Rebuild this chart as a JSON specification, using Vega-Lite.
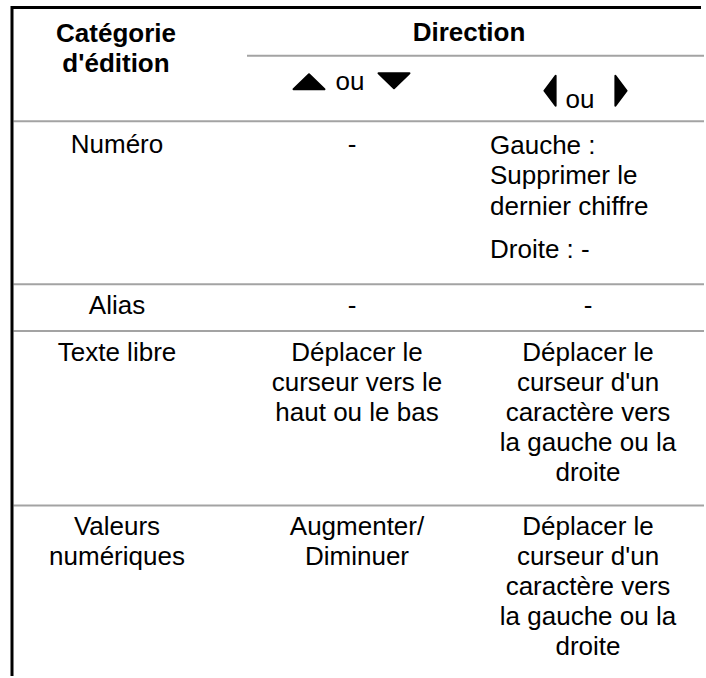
{
  "$schema": "https://vega.github.io/schema/vega-lite/v6.json",
  "width": 706,
  "height": 678,
  "padding": 0,
  "autosize": {"type": "fit", "contains": "padding"},
  "background": "white",
  "config": {"view": {"stroke": null}},
  "datasets": {
    "lines": [
      {"kind": "border", "x": 11, "x2": 701, "y": 7.5, "y2": 7.5},
      {"kind": "border", "x": 12, "x2": 12, "y": 6, "y2": 678},
      {"kind": "grid", "x": 247, "x2": 704, "y": 56, "y2": 56},
      {"kind": "grid", "x": 13.5, "x2": 704, "y": 121.5, "y2": 121.5},
      {"kind": "grid", "x": 13.5, "x2": 704, "y": 285, "y2": 285},
      {"kind": "grid", "x": 13.5, "x2": 704, "y": 332, "y2": 332},
      {"kind": "grid", "x": 13.5, "x2": 704, "y": 507, "y2": 507}
    ],
    "arrows": [
      {"dir": "up", "x": 309, "y": 82},
      {"dir": "down", "x": 394, "y": 81},
      {"dir": "left", "x": 550, "y": 91},
      {"dir": "right", "x": 621, "y": 91}
    ],
    "cells": [
      {"role": "head", "x": 116, "y": 42, "text": "Catégorie"},
      {"role": "head", "x": 116, "y": 72, "text": "d'édition"},
      {"role": "head", "x": 469, "y": 41, "text": "Direction"},
      {"role": "center", "x": 350, "y": 90, "text": "ou"},
      {"role": "center", "x": 580, "y": 108, "text": "ou"},
      {"role": "center", "x": 117, "y": 153, "text": "Numéro"},
      {"role": "center", "x": 352, "y": 153, "text": "-"},
      {"role": "left", "x": 490, "y": 154, "text": "Gauche :"},
      {"role": "left", "x": 490, "y": 185, "text": "Supprimer le"},
      {"role": "left", "x": 490, "y": 216, "text": "dernier chiffre"},
      {"role": "left", "x": 490, "y": 259, "text": "Droite : -"},
      {"role": "center", "x": 117, "y": 315, "text": "Alias"},
      {"role": "center", "x": 352, "y": 315, "text": "-"},
      {"role": "center", "x": 588, "y": 315, "text": "-"},
      {"role": "center", "x": 117, "y": 362, "text": "Texte libre"},
      {"role": "center", "x": 357, "y": 362, "text": "Déplacer le"},
      {"role": "center", "x": 357, "y": 392, "text": "curseur vers le"},
      {"role": "center", "x": 357, "y": 422, "text": "haut ou le bas"},
      {"role": "center", "x": 588, "y": 362, "text": "Déplacer le"},
      {"role": "center", "x": 588, "y": 392, "text": "curseur d'un"},
      {"role": "center", "x": 588, "y": 422, "text": "caractère vers"},
      {"role": "center", "x": 588, "y": 452, "text": "la gauche ou la"},
      {"role": "center", "x": 588, "y": 482, "text": "droite"},
      {"role": "center", "x": 117, "y": 537, "text": "Valeurs"},
      {"role": "center", "x": 117, "y": 567, "text": "numériques"},
      {"role": "center", "x": 357, "y": 537, "text": "Augmenter/"},
      {"role": "center", "x": 357, "y": 567, "text": "Diminuer"},
      {"role": "center", "x": 588, "y": 537, "text": "Déplacer le"},
      {"role": "center", "x": 588, "y": 567, "text": "curseur d'un"},
      {"role": "center", "x": 588, "y": 597, "text": "caractère vers"},
      {"role": "center", "x": 588, "y": 627, "text": "la gauche ou la"},
      {"role": "center", "x": 588, "y": 657, "text": "droite"}
    ]
  },
  "encoding": {
    "x": {"field": "x", "type": "quantitative", "scale": {"domain": [0, 706], "nice": false, "zero": false}, "axis": null},
    "y": {"field": "y", "type": "quantitative", "scale": {"domain": [0, 678], "nice": false, "zero": false, "reverse": true}, "axis": null}
  },
  "layer": [
    {
      "data": {"name": "lines"},
      "transform": [{"filter": "datum.kind === 'grid'"}],
      "mark": {"type": "rule", "color": "#a3a3a3", "strokeWidth": 2},
      "encoding": {"x2": {"field": "x2"}, "y2": {"field": "y2"}}
    },
    {
      "data": {"name": "lines"},
      "transform": [{"filter": "datum.kind === 'border'"}],
      "mark": {"type": "rule", "color": "#000000", "strokeWidth": 3},
      "encoding": {"x2": {"field": "x2"}, "y2": {"field": "y2"}}
    },
    {
      "data": {"name": "arrows"},
      "mark": {"type": "point", "filled": true, "color": "#000000", "size": 1156, "opacity": 1, "stroke": "#000000", "strokeWidth": 2, "strokeJoin": "round"},
      "encoding": {
        "shape": {
          "field": "dir",
          "type": "nominal",
          "legend": null,
          "scale": {
            "domain": ["up", "down", "left", "right"],
            "range": [
              "M-0.91,0.44L0,-0.44L0.91,0.44Z",
              "M-0.91,-0.44L0,0.44L0.91,-0.44Z",
              "M0.33,-0.88L-0.33,0L0.33,0.88Z",
              "M-0.33,-0.88L0.33,0L-0.33,0.88Z"
            ]
          }
        }
      }
    },
    {
      "data": {"name": "cells"},
      "transform": [{"filter": "datum.role === 'head'"}],
      "mark": {"type": "text", "font": "Liberation Sans", "fontSize": 26, "fontWeight": "bold", "align": "center", "baseline": "alphabetic", "color": "#000000"},
      "encoding": {"text": {"field": "text"}}
    },
    {
      "data": {"name": "cells"},
      "transform": [{"filter": "datum.role === 'center'"}],
      "mark": {"type": "text", "font": "Liberation Sans", "fontSize": 26, "align": "center", "baseline": "alphabetic", "color": "#000000"},
      "encoding": {"text": {"field": "text"}}
    },
    {
      "data": {"name": "cells"},
      "transform": [{"filter": "datum.role === 'left'"}],
      "mark": {"type": "text", "font": "Liberation Sans", "fontSize": 26, "align": "left", "baseline": "alphabetic", "color": "#000000"},
      "encoding": {"text": {"field": "text"}}
    }
  ]
}
